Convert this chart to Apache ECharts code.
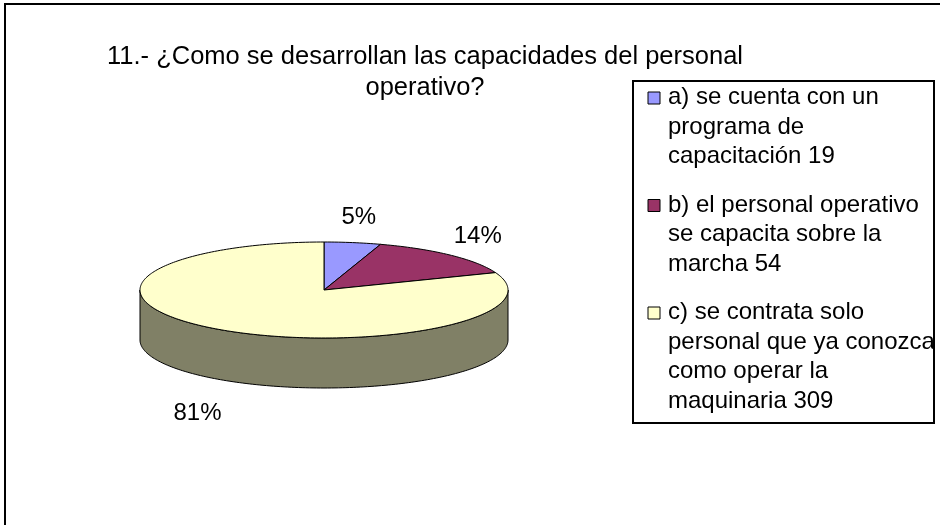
<!DOCTYPE html>
<html>
<head>
<meta charset="utf-8">
<script src="https://cdn.jsdelivr.net/npm/echarts@6/dist/echarts.min.js"></script>
<style>
  html, body { margin: 0; padding: 0; background: #fff; }
  #main { width: 940px; height: 525px; }
</style>
</head>
<body>
<div id="main"></div>
<script>
// data
const titleText = '11.- ¿Como se desarrollan las capacidades del personal\noperativo?';
const categories = [
  'a) se cuenta con un\nprograma de\ncapacitación',
  'b) el personal operativo\nse capacita sobre la\nmarcha',
  'c) se contrata solo\npersonal que ya conozca\ncomo operar la\nmaquinaria'
];
const counts = [19, 54, 309];

// styles
const sliceColors = ['#9999ff', '#993366', '#ffffcc'];
const sideColors = ['#4d4d80', '#4d1a33', '#808066'];
const fontFamily = '"Liberation Sans", Arial, sans-serif';

const total = counts.reduce((s, v) => s + v, 0);
const starts = [];
let acc = 0;
counts.forEach((v) => {
  starts.push(acc / total);
  acc += v;
});

// tilted pie geometry
const pie = { cx: 324, cy: 290, rx: 184, ry: 48, depth: 50 };

// t = angle clockwise from 12 o'clock
function pt(t, dy) {
  return [pie.cx + pie.rx * Math.sin(t), pie.cy - pie.ry * Math.cos(t) + (dy || 0)];
}
function arc(t0, t1, dy) {
  const n = Math.max(2, Math.ceil((t1 - t0) / 0.02));
  const pts = [];
  for (let i = 0; i <= n; i++) pts.push(pt(t0 + ((t1 - t0) * i) / n, dy));
  return pts;
}

function renderSlice(params, api) {
  const i = params.dataIndex;
  const v = api.value(0);
  const t0 = starts[i] * 2 * Math.PI;
  const t1 = t0 + (v / total) * 2 * Math.PI;
  const children = [];
  // side wall, only the front half shows
  const s0 = Math.max(t0, Math.PI / 2);
  const s1 = Math.min(t1, Math.PI * 1.5);
  if (s1 > s0) {
    const top = arc(s0, s1, 0);
    const bottom = arc(s0, s1, pie.depth).reverse();
    children.push({
      type: 'polygon',
      shape: { points: top.concat(bottom) },
      style: { fill: sideColors[i], stroke: '#000', lineWidth: 1 }
    });
  }
  children.push({
    type: 'polygon',
    shape: { points: [[pie.cx, pie.cy]].concat(arc(t0, t1, 0)) },
    style: { fill: sliceColors[i], stroke: '#000', lineWidth: 1 }
  });
  // percent label outside the slice
  const m = (t0 + t1) / 2;
  const lx = pie.cx + (pie.rx + 40) * Math.sin(m);
  const ly = pie.cy - (pie.ry + 26) * Math.cos(m) + (Math.cos(m) < 0 ? pie.depth + 12 : 0);
  children.push({
    type: 'text',
    style: {
      text: Math.round((v / total) * 100) + '%',
      x: lx,
      y: ly,
      align: 'center',
      verticalAlign: 'middle',
      fontSize: 24,
      fontFamily: fontFamily,
      fill: '#000'
    }
  });
  return { type: 'group', children: children };
}

// legend box
const legendGraphics = [
  {
    type: 'rect',
    shape: { x: 633, y: 81, width: 301, height: 342 },
    style: { fill: '#fff', stroke: '#000', lineWidth: 2 }
  }
];
let ly = 83;
categories.forEach((c, i) => {
  const lines = (c + ' ' + counts[i]).split('\n');
  legendGraphics.push({
    type: 'rect',
    shape: { x: 648, y: ly + 9, width: 12, height: 12 },
    style: { fill: sliceColors[i], stroke: '#000', lineWidth: 1 }
  });
  legendGraphics.push({
    type: 'text',
    x: 668,
    y: ly,
    style: {
      text: lines.join('\n'),
      fontSize: 24,
      fontFamily: fontFamily,
      lineHeight: 29.5,
      fill: '#000'
    }
  });
  ly += lines.length * 29.5 + 19;
});

const chart = echarts.init(document.getElementById('main'));
chart.setOption({
  backgroundColor: '#fff',
  animation: false,
  graphic: [
    {
      type: 'rect',
      shape: { x: 5, y: 4, width: 1000, height: 1000 },
      style: { fill: 'none', stroke: '#000', lineWidth: 2 }
    },
    {
      type: 'text',
      x: 425,
      y: 41,
      style: {
        text: titleText,
        align: 'center',
        fontSize: 25.5,
        fontFamily: fontFamily,
        lineHeight: 31,
        fill: '#000'
      }
    }
  ].concat(legendGraphics),
  series: [
    {
      type: 'custom',
      coordinateSystem: 'none',
      renderItem: renderSlice,
      data: counts.map((v, i) => ({ name: categories[i], value: [v] }))
    }
  ]
});
</script>
</body>
</html>
